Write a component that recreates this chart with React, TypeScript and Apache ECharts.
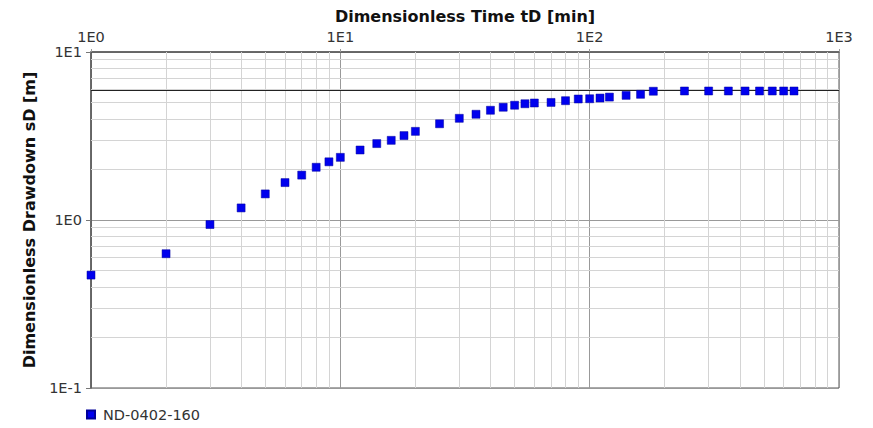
import React, { useEffect, useRef } from "react";
import * as echarts from "echarts";

const seriesName = "ND-0402-160";
const timeValues = [1, 2, 3, 4, 5, 6, 7, 8, 9, 10, 12, 14, 16, 18, 20, 25, 30, 35, 40, 45, 50, 55, 60, 70, 80, 90, 100, 110, 120, 140, 160, 180, 240, 300, 360, 420, 480, 540, 600, 660];
const drawdownValues = [0.47, 0.63, 0.94, 1.18, 1.43, 1.67, 1.85, 2.06, 2.22, 2.36, 2.61, 2.85, 2.98, 3.18, 3.37, 3.74, 4.03, 4.26, 4.5, 4.69, 4.82, 4.92, 4.97, 5.01, 5.13, 5.25, 5.27, 5.32, 5.39, 5.52, 5.6, 5.84, 5.86, 5.86, 5.86, 5.86, 5.86, 5.86, 5.86, 5.86];
const referenceLevel = 5.9;
const xDecades = [1, 10, 100];
const yDecades = [0.1, 1];
const minorMultipliers = [2, 3, 4, 5, 6, 7, 8, 9];

const FONT = "DejaVu Sans";

export default function App() {
  const ref = useRef<HTMLDivElement>(null);
  useEffect(() => {
    if (!ref.current) return;
    const chart = echarts.init(ref.current, null, { renderer: "svg" });
    const fmt = (v: number) => "1E" + Math.round(Math.log10(v));
    const minorX: any[] = [];
    xDecades.forEach((d) => minorMultipliers.forEach((m) => minorX.push({ xAxis: d * m })));
    const minorY: any[] = [];
    yDecades.forEach((d) => minorMultipliers.forEach((m) => minorY.push({ yAxis: d * m })));
    chart.setOption({
      animation: false,
      grid: {
        left: 91,
        right: 34,
        top: 52,
        bottom: 40,
        outerBoundsMode: "none",
        containLabel: false,
        show: true,
        borderColor: "#555",
        borderWidth: 1,
        backgroundColor: "#fff",
      },
      legend: {
        data: [seriesName],
        left: 81,
        top: 402,
        icon: "rect",
        itemWidth: 8,
        itemHeight: 8,
        textStyle: { fontFamily: FONT, fontSize: 14.5, color: "#333", padding: [0, 0, 0, 3] },
      },
      xAxis: {
        type: "log",
        logBase: 10,
        min: 1,
        max: 1000,
        position: "top",
        name: "Dimensionless Time tD [min]",
        nameLocation: "middle",
        nameGap: 28,
        nameMoveOverlap: false,
        nameTextStyle: { fontFamily: FONT, fontSize: 16, fontWeight: "bold", color: "#111" },
        axisLine: { show: true, lineStyle: { color: "#555", width: 1.5 } },
        axisTick: { show: true, length: 3, lineStyle: { color: "#999" } },
        axisLabel: { formatter: fmt, fontFamily: FONT, fontSize: 14.5, color: "#333", margin: 8 },
        splitLine: { show: true, lineStyle: { color: "#999", width: 1 } },
      },
      yAxis: {
        type: "log",
        logBase: 10,
        min: 0.1,
        max: 10,
        name: "Dimensionless Drawdown sD [m]",
        nameLocation: "middle",
        nameGap: 54,
        nameMoveOverlap: false,
        nameTextStyle: { fontFamily: FONT, fontSize: 16, fontWeight: "bold", color: "#111" },
        axisLine: { show: true, lineStyle: { color: "#555", width: 1.5 } },
        axisTick: { show: true, length: 5, lineStyle: { color: "#777" } },
        axisLabel: { formatter: fmt, fontFamily: FONT, fontSize: 14.5, color: "#333", margin: 9 },
        splitLine: { show: true, lineStyle: { color: "#999", width: 1 } },
      },
      series: [
        {
          name: "minor-grid",
          type: "scatter",
          data: [],
          z: 1,
          silent: true,
          markLine: {
            silent: true,
            symbol: "none",
            label: { show: false },
            lineStyle: { color: "#d4d4d4", width: 1, type: "solid" },
            data: [...minorX, ...minorY],
          },
        },
        {
          name: seriesName,
          type: "scatter",
          symbol: "rect",
          symbolSize: 8,
          z: 5,
          itemStyle: { color: "#0000ee", opacity: 1, borderColor: "#00009a", borderWidth: 0.5 },
          data: timeValues.map((t, i) => [t, drawdownValues[i]]),
          markLine: {
            silent: true,
            symbol: "none",
            label: { show: false },
            lineStyle: { color: "#222", width: 1.2, type: "solid" },
            data: [{ yAxis: referenceLevel }],
          },
        },
      ],
    });
    return () => chart.dispose();
  }, []);
  return <div ref={ref} style={{ width: 873, height: 428, position: "absolute", left: 0, top: 0 }} />;
}
